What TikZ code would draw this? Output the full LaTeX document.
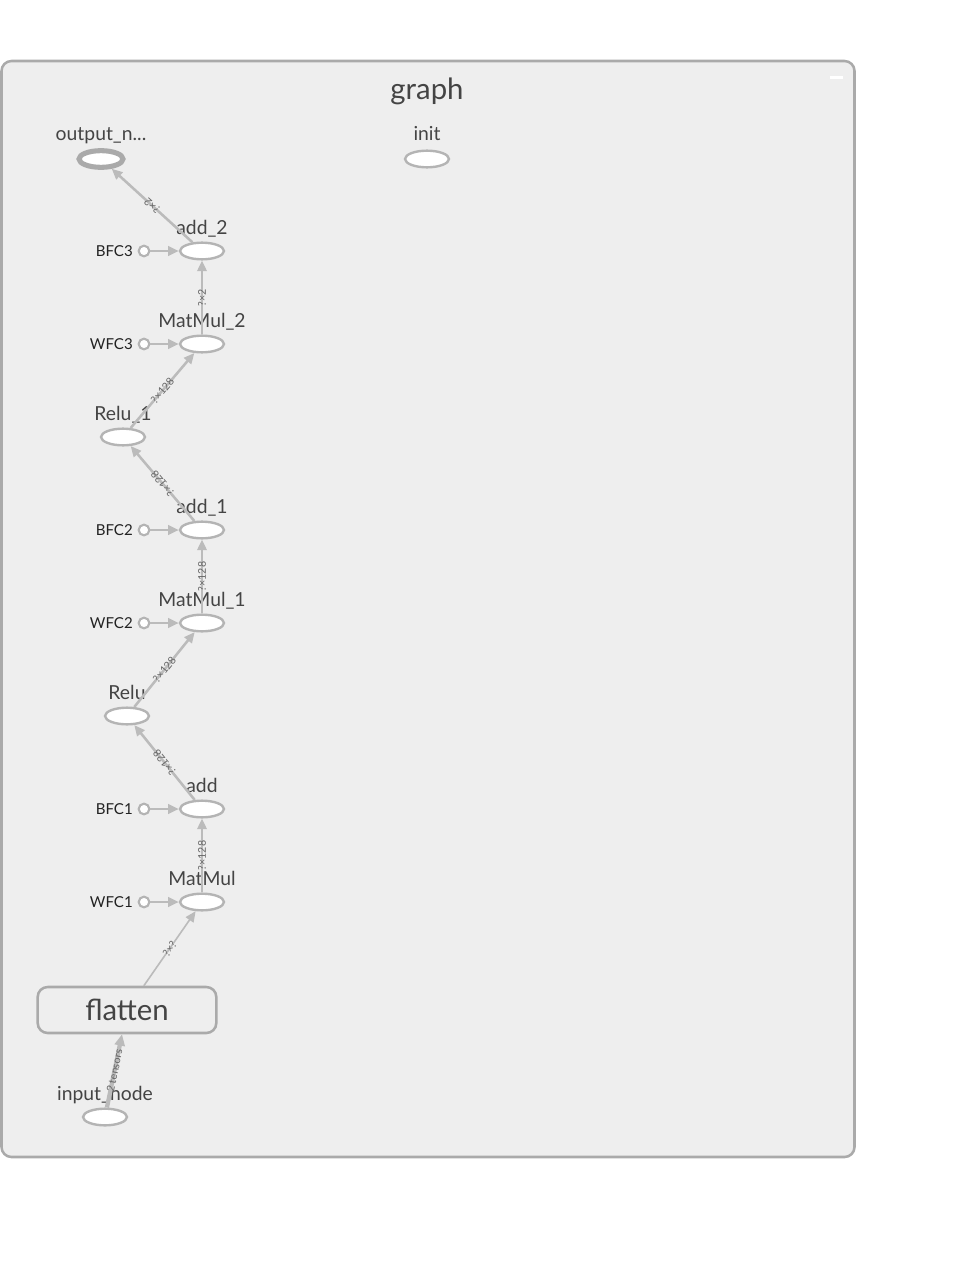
\documentclass[tikz,border=0pt]{standalone}
\usepackage{fontspec}
\setmainfont{Lato}
\usetikzlibrary{shapes.geometric,arrows.meta}
\definecolor{bgc}{HTML}{EEEEEE}
\definecolor{framec}{HTML}{AAAAAA}
\definecolor{edgec}{HTML}{BBBBBB}
\definecolor{nodec}{HTML}{B4B4B4}
\definecolor{txtc}{HTML}{444444}
\definecolor{lblc}{HTML}{666666}
\definecolor{constc}{HTML}{222222}
\tikzset{
  opnode/.style={ellipse, draw=nodec, fill=white, line width=1.8pt, minimum width=33pt, minimum height=12.5pt, inner sep=0pt},
  outnode/.style={opnode, draw=framec, line width=3.8pt, minimum width=33pt, minimum height=12.5pt},
  constnode/.style={circle, draw=nodec, fill=white, line width=1.6pt, minimum size=8pt, inner sep=0pt},
  oplabel/.style={anchor=base, inner sep=0pt, text=txtc, font=\fontsize{14.5}{16}\selectfont},
  constlabel/.style={anchor=base east, inner sep=0pt, text=constc, font=\fontsize{11.3}{13}\selectfont},
  flow/.style={draw=edgec, line width=1.9pt, -{Triangle[length=8pt,width=7pt]}},
  thinflow/.style={draw=edgec, line width=1.2pt, -{Triangle[length=8pt,width=7pt]}},
  thickflow/.style={draw=edgec, line width=3.2pt, -{Triangle[length=8.5pt,width=7.5pt]}},
  edgelabel/.style={inner sep=0pt, text=lblc, font=\fontsize{8}{9}\selectfont},
}
\begin{document}
\begin{tikzpicture}[x=0.75pt,y=-0.75pt]
\useasboundingbox (0,0) rectangle (975,1277);
% frame
\draw[draw=framec, fill=bgc, line width=1.9pt, rounded corners=7.5pt] (1.5,61) rectangle (854.5,1157);
\node[anchor=base, text=txtc, font=\fontsize{22}{24}\selectfont, inner sep=0pt] (title) at (427,99.5) {graph};
\fill[white] (830,76) rectangle (843,79);

% op nodes
\node[outnode] (out) at (101,159) {};
\node[oplabel] (outl) at (101,141) {output\_n...};
\node[opnode] (init) at (427,159) {};
\node[oplabel] (initl) at (427,141) {init};

\node[opnode] (add2) at (202,251) {};
\node[oplabel] (add2l) at (202,234) {add\_2};
\node[opnode] (mm2) at (202,344) {};
\node[oplabel] (mm2l) at (202,327) {MatMul\_2};
\node[opnode] (relu1) at (123,437) {};
\node[oplabel] (relu1l) at (123,420) {Relu\_1};
\node[opnode] (add1) at (202,530) {};
\node[oplabel] (add1l) at (202,513) {add\_1};
\node[opnode] (mm1) at (202,623) {};
\node[oplabel] (mm1l) at (202,606) {MatMul\_1};
\node[opnode] (relu) at (127,716) {};
\node[oplabel] (relul) at (127,699) {Relu};
\node[opnode] (add) at (202,809) {};
\node[oplabel] (addl) at (202,792) {add};
\node[opnode] (mm) at (202,902) {};
\node[oplabel] (mml) at (202,885) {MatMul};
\node[opnode] (inp) at (105,1117) {};
\node[oplabel] (inpl) at (105,1100) {input\_node};

% flatten
\node[draw=framec, fill=bgc, line width=1.9pt, rounded corners=7.5pt, minimum width=134pt, minimum height=34.5pt, inner sep=0pt] (flat) at (127,1010) {};
\node[anchor=base, text=txtc, font=\fontsize{22}{24}\selectfont, inner sep=0pt] (flatl) at (127,1020) {flatten};

% constants
\node[constnode] (bfc3) at (144,251) {};
\node[constlabel] (bfc3l) at (133,256.5) {BFC3};
\node[constnode] (wfc3) at (144,344) {};
\node[constlabel] (wfc3l) at (133,349.5) {WFC3};
\node[constnode] (bfc2) at (144,530) {};
\node[constlabel] (bfc2l) at (133,535.5) {BFC2};
\node[constnode] (wfc2) at (144,623) {};
\node[constlabel] (wfc2l) at (133,628.5) {WFC2};
\node[constnode] (bfc1) at (144,809) {};
\node[constlabel] (bfc1l) at (133,814.5) {BFC1};
\node[constnode] (wfc1) at (144,902) {};
\node[constlabel] (wfc1l) at (133,907.5) {WFC1};

% const edges
\draw[flow] (bfc3) -- (add2);
\draw[flow] (wfc3) -- (mm2);
\draw[flow] (bfc2) -- (add1);
\draw[flow] (wfc2) -- (mm1);
\draw[flow] (bfc1) -- (add);
\draw[flow] (wfc1) -- (mm);

% data edges
\draw[flow] (add2) -- node[edgelabel, rotate=137.7] (e1) {?×2} (out);
\draw[flow] (mm2) -- node[edgelabel, rotate=90] (e2) {?×2} (add2);
\draw[flow] (relu1) -- node[edgelabel, rotate=49.7] (e3) {?×128} (mm2);
\draw[flow] (add1) -- node[edgelabel, rotate=130.3] (e4) {?×128} (relu1);
\draw[flow] (mm1) -- node[edgelabel, rotate=90] (e5) {?×128} (add1);
\draw[flow] (relu) -- node[edgelabel, rotate=51.1] (e6) {?×128} (mm1);
\draw[flow] (add) -- node[edgelabel, rotate=128.9] (e7) {?×128} (relu);
\draw[flow] (mm) -- node[edgelabel, rotate=90] (e8) {?×128} (add);
\draw[thinflow] (flat) -- node[edgelabel, rotate=55.2] (e9) {?×?} (mm);
\draw[thickflow] (inp) -- node[edgelabel, rotate=78.4] (e10) {2 tensors} (flat);
\end{tikzpicture}
\end{document}
